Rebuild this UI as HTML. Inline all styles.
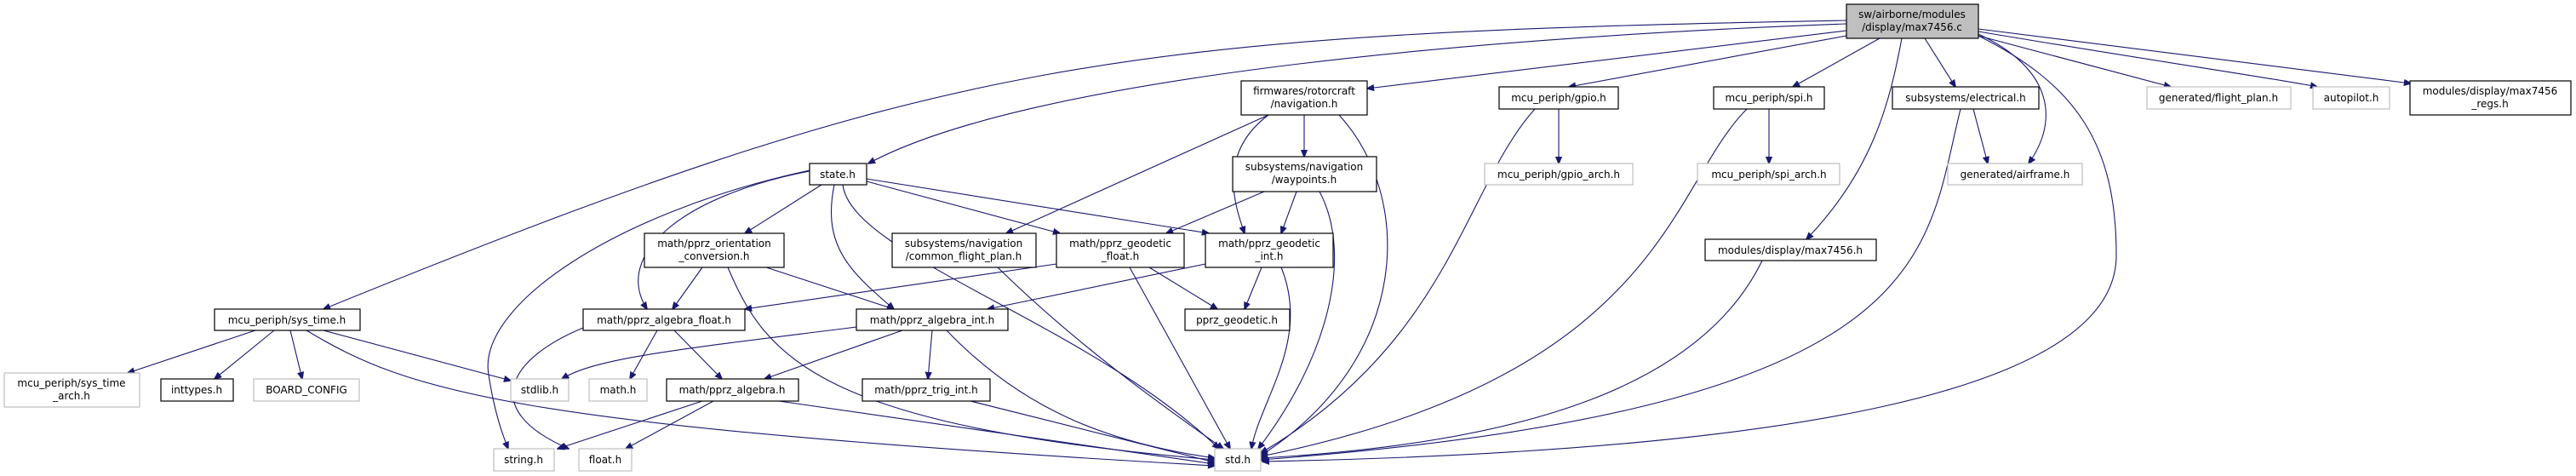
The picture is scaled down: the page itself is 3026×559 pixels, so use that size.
<!DOCTYPE html>
<html><head><meta charset="utf-8"><style>
html,body{margin:0;padding:0;background:#fff;}
svg{display:block;}
text{font-family:"DejaVu Sans","Liberation Sans",sans-serif;font-size:12px;fill:#000;text-anchor:middle;}
.n{fill:#fff;stroke:#000;stroke-width:1.2;}
.g{fill:#fff;stroke:#bfbfbf;stroke-width:1.2;}
.e{fill:none;stroke:#191970;stroke-width:1.1;}
</style></head><body>
<svg width="3026" height="559" viewBox="0 0 3026 559" xmlns="http://www.w3.org/2000/svg">
<defs><marker id="a" viewBox="0 0 10 10" refX="9" refY="5" markerWidth="9" markerHeight="9" markerUnits="userSpaceOnUse" orient="auto"><path d="M0,1 L10,5 L0,9 z" fill="#191970" stroke="#191970"/></marker></defs>
<g class="e" marker-end="url(#a)">
<path d="M2169,28 C1700,45 1200,95 1020,192"/>
<path d="M2169,24 C1300,40 1100,70 380,363"/>
<path d="M2169,36 L1606,104"/>
<path d="M2169,42 L1843,102"/>
<path d="M2208,45 L2106,102"/>
<path d="M2234,45 C2220,120 2200,200 2122,281"/>
<path d="M2261,45 L2297,102"/>
<path d="M2324,40 C2410,80 2420,140 2383,192"/>
<path d="M2324,42 C2440,100 2486,170 2486,300 C2486,460 2100,530 1483,542"/>
<path d="M2324,42 L2550,102"/>
<path d="M2324,37 C2520,70 2690,95 2722,102"/>
<path d="M2324,34 L2832,98"/>
<path d="M1532,135 L1532,184"/>
<path d="M1490,135 L1182,274"/>
<path d="M1490,135 C1430,180 1450,240 1462,274"/>
<path d="M1573,135 C1660,230 1660,420 1481,535"/>
<path d="M1485,225 L1370,274"/>
<path d="M1523,225 L1505,274"/>
<path d="M1550,225 C1590,300 1560,420 1478,527"/>
<path d="M965,217 L875,274"/>
<path d="M951,201 C800,230 720,300 760,363"/>
<path d="M951,200 C720,250 560,360 574,440 C580,480 590,510 597,527"/>
<path d="M980,217 C965,290 1000,320 1050,363"/>
<path d="M990,217 C1000,300 1280,380 1432,527"/>
<path d="M1018,213 L1245,274"/>
<path d="M1018,210 L1420,274"/>
<path d="M825,314 L790,363"/>
<path d="M900,314 L1050,363"/>
<path d="M855,314 C900,420 960,500 1427,540"/>
<path d="M1172,314 C1280,420 1400,500 1437,527"/>
<path d="M1241,310 L875,363"/>
<path d="M1350,314 L1430,363"/>
<path d="M1327,314 L1445,527"/>
<path d="M1416,310 L1160,363"/>
<path d="M1482,314 L1462,363"/>
<path d="M1505,314 C1540,400 1480,470 1470,527"/>
<path d="M685,385 C600,420 560,480 668,527"/>
<path d="M772,388 L740,445"/>
<path d="M792,388 L848,445"/>
<path d="M1006,384 C800,410 700,420 660,445"/>
<path d="M1060,388 L898,445"/>
<path d="M1095,388 L1090,445"/>
<path d="M1112,388 C1200,480 1300,520 1427,538"/>
<path d="M825,471 L655,527"/>
<path d="M838,471 L735,527"/>
<path d="M915,471 L1427,545"/>
<path d="M1140,471 L1427,543"/>
<path d="M300,388 L150,438"/>
<path d="M322,388 L252,445"/>
<path d="M341,388 L355,445"/>
<path d="M380,388 L600,447"/>
<path d="M360,388 C480,460 600,500 1427,547"/>
<path d="M1831,128 L1831,192"/>
<path d="M1803,128 C1720,220 1705,400 1481,532"/>
<path d="M2078,128 L2078,192"/>
<path d="M2052,128 C1960,220 1955,440 1481,536"/>
<path d="M2318,128 L2335,192"/>
<path d="M2303,128 C2260,300 2280,480 1481,540"/>
<path d="M2070,306 C2000,450 1800,520 1481,538"/>
</g>
<rect x="2169" y="5" width="155" height="40" fill="#bfbfbf" stroke="#000" stroke-width="1.2"/>
<text x="2246" y="21">sw/airborne/modules</text><text x="2246" y="36">/display/max7456.c</text>

<rect class="n" x="1458" y="95" width="148" height="40"/><text x="1532" y="111">firmwares/rotorcraft</text><text x="1532" y="126">/navigation.h</text>
<rect class="n" x="1761" y="102" width="140" height="26"/><text x="1831" y="119">mcu_periph/gpio.h</text>
<rect class="g" x="1744" y="192" width="174" height="25"/><text x="1831" y="209">mcu_periph/gpio_arch.h</text>
<rect class="n" x="2013" y="102" width="130" height="26"/><text x="2078" y="119">mcu_periph/spi.h</text>
<rect class="g" x="1994" y="192" width="167" height="25"/><text x="2078" y="209">mcu_periph/spi_arch.h</text>
<rect class="n" x="2223" y="102" width="172" height="26"/><text x="2309" y="119">subsystems/electrical.h</text>
<rect class="g" x="2288" y="192" width="158" height="25"/><text x="2367" y="209">generated/airframe.h</text>
<rect class="g" x="2522" y="102" width="169" height="26"/><text x="2606" y="119">generated/flight_plan.h</text>
<rect class="g" x="2717" y="102" width="90" height="26"/><text x="2762" y="119">autopilot.h</text>
<rect class="n" x="2831" y="95" width="189" height="40"/><text x="2925" y="111">modules/display/max7456</text><text x="2925" y="126">_regs.h</text>
<rect class="n" x="2003" y="281" width="201" height="25"/><text x="2103" y="298">modules/display/max7456.h</text>

<rect class="n" x="951" y="192" width="67" height="25"/><text x="984" y="209">state.h</text>
<rect class="n" x="1448" y="184" width="169" height="41"/><text x="1532" y="200">subsystems/navigation</text><text x="1532" y="215">/waypoints.h</text>
<rect class="n" x="757" y="274" width="164" height="40"/><text x="839" y="290">math/pprz_orientation</text><text x="839" y="305">_conversion.h</text>
<rect class="n" x="1048" y="274" width="169" height="40"/><text x="1132" y="290">subsystems/navigation</text><text x="1132" y="305">/common_flight_plan.h</text>
<rect class="n" x="1241" y="274" width="150" height="40"/><text x="1316" y="290">math/pprz_geodetic</text><text x="1316" y="305">_float.h</text>
<rect class="n" x="1416" y="274" width="150" height="40"/><text x="1491" y="290">math/pprz_geodetic</text><text x="1491" y="305">_int.h</text>

<rect class="n" x="252" y="363" width="171" height="25"/><text x="337" y="380">mcu_periph/sys_time.h</text>
<rect class="n" x="685" y="363" width="190" height="25"/><text x="780" y="380">math/pprz_algebra_float.h</text>
<rect class="n" x="1006" y="363" width="178" height="25"/><text x="1095" y="380">math/pprz_algebra_int.h</text>
<rect class="n" x="1392" y="363" width="123" height="25"/><text x="1453" y="380">pprz_geodetic.h</text>

<rect class="g" x="5" y="438" width="159" height="40"/><text x="84" y="454">mcu_periph/sys_time</text><text x="84" y="469">_arch.h</text>
<rect class="n" x="189" y="445" width="85" height="26"/><text x="231" y="462">inttypes.h</text>
<rect class="g" x="298" y="445" width="124" height="26"/><text x="360" y="462">BOARD_CONFIG</text>
<rect class="g" x="600" y="445" width="68" height="26"/><text x="634" y="462">stdlib.h</text>
<rect class="g" x="692" y="445" width="68" height="26"/><text x="726" y="462">math.h</text>
<rect class="n" x="783" y="445" width="155" height="26"/><text x="860" y="462">math/pprz_algebra.h</text>
<rect class="n" x="1013" y="445" width="150" height="26"/><text x="1088" y="462">math/pprz_trig_int.h</text>

<rect class="g" x="580" y="527" width="71" height="26"/><text x="615" y="544">string.h</text>
<rect class="g" x="680" y="527" width="62" height="26"/><text x="711" y="544">float.h</text>
<rect class="g" x="1427" y="527" width="54" height="26"/><text x="1454" y="544">std.h</text>
</svg>
</body></html>
